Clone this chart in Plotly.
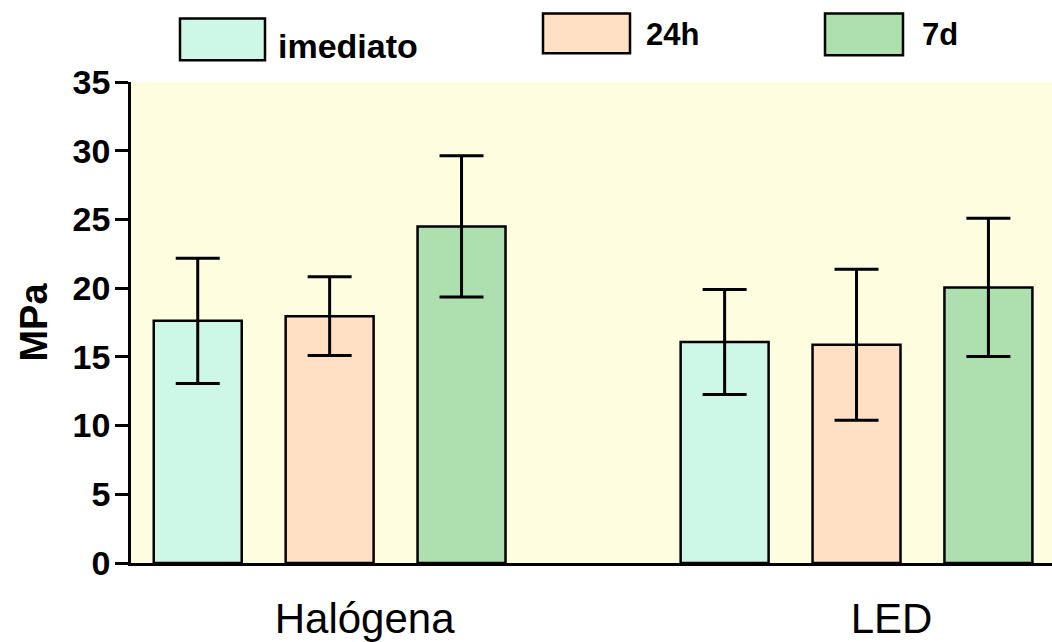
import plotly.graph_objects as go

# Bond strength (MPa) per light-curing unit and storage time
groups = ["Halógena", "LED"]
series_names = ["imediato", "24h", "7d"]
means_imediato = [17.62, 16.09]
means_24h = [17.96, 15.88]
means_7d = [24.49, 20.05]
sd_imediato = [4.55, 3.82]
sd_24h = [2.86, 5.49]
sd_7d = [5.14, 5.03]
y_ticks = [0, 5, 10, 15, 20, 25, 30, 35]

fill_colors = ["#CDF7E6", "#FFE0C4", "#AEDFAE"]
means = [means_imediato, means_24h, means_7d]
sds = [sd_imediato, sd_24h, sd_7d]

W, H = 1052, 642
L, R, T, B = 131, 0, 82, 76

fig = go.Figure()
for name, m, s, c in zip(series_names, means, sds, fill_colors):
    fig.add_trace(go.Bar(
        name=name, x=groups, y=m,
        marker=dict(color=c, line=dict(color="black", width=2.5)),
        error_y=dict(type="data", array=s, visible=True, color="black",
                     thickness=3, width=22),
        showlegend=False,
    ))

# x pixel -> paper, y pixel -> paper helpers for the legend drawn above the plot
pw, ph = W - L - R, H - T - B
def px(x):
    return (x - L) / pw
def py(y):
    return (H - B - y) / ph

legend_items = [
    # (box left, box top, box right, box bottom, text x, text y, font size)
    (180, 18, 265, 60, 276, 46, 34),
    (543, 13, 630, 53, 644, 34, 31),
    (825, 13, 903, 55, 920, 34, 31),
]
for (x0, y0, x1, y1, tx, ty, fs), name, c in zip(legend_items, series_names, fill_colors):
    fig.add_shape(type="rect", xref="paper", yref="paper",
                  x0=px(x0), x1=px(x1), y0=py(y1), y1=py(y0),
                  fillcolor=c, line=dict(color="black", width=2.5))
    fig.add_annotation(xref="paper", yref="paper", x=px(tx), y=py(ty),
                       text=f"<b>{name}</b>", showarrow=False,
                       xanchor="left", yanchor="middle",
                       font=dict(family="Liberation Sans, Arial", size=fs, color="black"))

fig.update_layout(
    width=W, height=H,
    margin=dict(l=L, r=R, t=T, b=B, pad=0),
    paper_bgcolor="white",
    plot_bgcolor="#FFFDE0",
    barmode="group",
    bargap=0.249,
    bargroupgap=0.333,
    font=dict(family="Liberation Sans, Arial", color="black"),
)
fig.update_xaxes(
    range=[-0.377, 1.371],
    showline=True, linecolor="black", linewidth=2.5,
    ticks="", showgrid=False, zeroline=False,
    tickfont=dict(size=42, family="Liberation Sans, Arial"),
    ticklabelshift=35, ticklabelstandoff=17,
)
fig.update_yaxes(
    range=[0, 35],
    tickvals=y_ticks,
    ticktext=[f"<b>{v}</b>" for v in y_ticks],
    showline=True, linecolor="black", linewidth=2.5,
    ticks="outside", ticklen=13, tickwidth=2.5, tickcolor="black",
    showgrid=False, zeroline=False,
    tickfont=dict(size=34, family="Liberation Sans, Arial"),
    ticklabelstandoff=-2,
    title=dict(text="<b>MPa</b>", font=dict(size=38, family="Liberation Sans, Arial"),
               standoff=14),
)

fig.write_html("out.html")
